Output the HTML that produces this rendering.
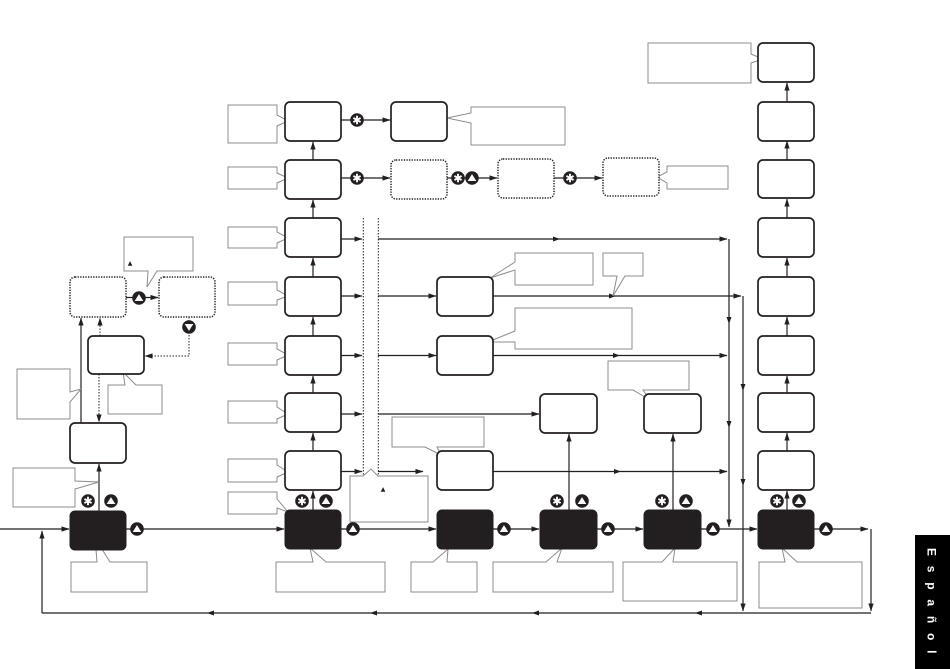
<!DOCTYPE html>
<html>
<head>
<meta charset="utf-8">
<style>
html,body{margin:0;padding:0;background:#fff;}
svg{display:block;}
</style>
</head>
<body>
<svg width="950" height="669" viewBox="0 0 950 669" xmlns="http://www.w3.org/2000/svg">
<defs>
<marker id="a" markerWidth="8" markerHeight="6" refX="7.5" refY="3" orient="auto" markerUnits="userSpaceOnUse"><path d="M0,0.4 L8,3 L0,5.6z" fill="#231f20"/></marker>
<g id="ast"><circle r="6.8" fill="#231f20"/><path d="M0,-4.2V4.2M-3.6,-2.1L3.6,2.1M-3.6,2.1L3.6,-2.1" stroke="#fff" stroke-width="1.9"/></g>
<g id="up"><circle r="6.8" fill="#231f20"/><path d="M0,-3.9L4.3,3L-4.3,3z" fill="#fff"/></g>
<g id="dn"><circle r="6.8" fill="#231f20"/><path d="M0,3.9L4.3,-3L-4.3,-3z" fill="#fff"/></g>
</defs>
<g stroke="#231f20" stroke-width="1.2" fill="none">
<line x1="0" y1="529" x2="69" y2="529" marker-end="url(#a)"/>
<line x1="126" y1="529" x2="284" y2="529" marker-end="url(#a)"/>
<line x1="341" y1="529" x2="436" y2="529" marker-end="url(#a)"/>
<line x1="493" y1="529" x2="539" y2="529" marker-end="url(#a)"/>
<line x1="597" y1="529" x2="643" y2="529" marker-end="url(#a)"/>
<line x1="701" y1="529" x2="757" y2="529" marker-end="url(#a)"/>
<line x1="814" y1="529" x2="868" y2="529" marker-end="url(#a)"/>
<line x1="871" y1="529" x2="871" y2="611" marker-end="url(#a)"/>
<line x1="871" y1="613" x2="42" y2="613"/>
<line x1="42" y1="613" x2="42" y2="531" marker-end="url(#a)"/>
<line x1="729" y1="239" x2="729" y2="527" marker-end="url(#a)"/>
<line x1="743" y1="296" x2="743" y2="611" marker-end="url(#a)"/>
<line x1="341" y1="239" x2="362" y2="239" marker-end="url(#a)"/>
<line x1="378" y1="239" x2="727" y2="239" marker-end="url(#a)"/>
<line x1="341" y1="296" x2="362" y2="296" marker-end="url(#a)"/>
<line x1="378" y1="296" x2="436" y2="296" marker-end="url(#a)"/>
<line x1="493" y1="296" x2="741" y2="296" marker-end="url(#a)"/>
<line x1="341" y1="355.5" x2="362" y2="355.5" marker-end="url(#a)"/>
<line x1="378" y1="355.5" x2="436" y2="355.5" marker-end="url(#a)"/>
<line x1="493" y1="355.5" x2="727" y2="355.5" marker-end="url(#a)"/>
<line x1="341" y1="414" x2="362" y2="414" marker-end="url(#a)"/>
<line x1="378" y1="414" x2="539" y2="414" marker-end="url(#a)"/>
<line x1="341" y1="471.5" x2="362" y2="471.5" marker-end="url(#a)"/>
<line x1="378" y1="471.5" x2="423" y2="471.5" marker-end="url(#a)"/>
<line x1="493" y1="471.5" x2="727" y2="471.5" marker-end="url(#a)"/>
<line x1="569" y1="510" x2="569" y2="434" marker-end="url(#a)"/>
<line x1="673" y1="510" x2="673" y2="434" marker-end="url(#a)"/>
<line x1="313" y1="510" x2="313" y2="491" marker-end="url(#a)"/>
<line x1="313" y1="451" x2="313" y2="433" marker-end="url(#a)"/>
<line x1="313" y1="393" x2="313" y2="376" marker-end="url(#a)"/>
<line x1="313" y1="336" x2="313" y2="317" marker-end="url(#a)"/>
<line x1="313" y1="277" x2="313" y2="258" marker-end="url(#a)"/>
<line x1="313" y1="218" x2="313" y2="200" marker-end="url(#a)"/>
<line x1="313" y1="160" x2="313" y2="142" marker-end="url(#a)"/>
<line x1="787" y1="510" x2="787" y2="491" marker-end="url(#a)"/>
<line x1="787" y1="451" x2="787" y2="433" marker-end="url(#a)"/>
<line x1="787" y1="393" x2="787" y2="376" marker-end="url(#a)"/>
<line x1="787" y1="336" x2="787" y2="317" marker-end="url(#a)"/>
<line x1="787" y1="277" x2="787" y2="258" marker-end="url(#a)"/>
<line x1="787" y1="218" x2="787" y2="199" marker-end="url(#a)"/>
<line x1="787" y1="160" x2="787" y2="141" marker-end="url(#a)"/>
<line x1="787" y1="102" x2="787" y2="83" marker-end="url(#a)"/>
<line x1="341" y1="120" x2="390" y2="120" marker-end="url(#a)"/>
<line x1="341" y1="178" x2="390" y2="178" marker-end="url(#a)"/>
<line x1="447" y1="178" x2="497" y2="178" marker-end="url(#a)"/>
<line x1="554" y1="178" x2="602" y2="178" marker-end="url(#a)"/>
<line x1="99" y1="511" x2="99" y2="464" marker-end="url(#a)"/>
<line x1="81" y1="423" x2="81" y2="318" marker-end="url(#a)"/>
<line x1="126" y1="297.5" x2="158" y2="297.5" marker-end="url(#a)"/>
</g>
<g stroke="#231f20" stroke-width="1" fill="none" stroke-dasharray="1.5 1.5">
<line x1="100" y1="336" x2="100" y2="318" marker-end="url(#a)"/>
<line x1="99" y1="374" x2="99" y2="422" marker-end="url(#a)"/>
<polyline points="189,317 189,356 145,356" marker-end="url(#a)"/>
<line x1="363.3" y1="218" x2="363.3" y2="476"/>
<line x1="378.3" y1="218" x2="378.3" y2="476"/>
</g>
<g fill="#231f20">
<polygon points="560,239 553,236.5 553,241.5"/>
<polygon points="616,296 609,293.5 609,298.5"/>
<polygon points="620,355.5 613,353 613,358"/>
<polygon points="621,471.5 614,469 614,474"/>
<polygon points="729,324 726.5,317 731.5,317"/>
<polygon points="729,428 726.5,421 731.5,421"/>
<polygon points="743,391 740.5,384 745.5,384"/>
<polygon points="743,486 740.5,479 745.5,479"/>
<polygon points="207,613 214,610.5 214,615.5"/>
<polygon points="370,613 377,610.5 377,615.5"/>
<polygon points="532,613 539,610.5 539,615.5"/>
<polygon points="695,613 702,610.5 702,615.5"/>
</g>
<g stroke="#8c8c8c" stroke-width="1" fill="#fff">
<path d="M228,105H277V115L288,121L277,126V143H228Z"/>
<path d="M228,167H277V173L288,178L277,183V189H228Z"/>
<path d="M228,227H277V232L288,238L277,243V248H228Z"/>
<path d="M228,282H277V290L288,296L277,300V305H228Z"/>
<path d="M228,343H277V349L288,355L277,360V365H228Z"/>
<path d="M228,401H277V407L288,414L277,419V423H228Z"/>
<path d="M228,459H277V465L288,472L277,477V482H228Z"/>
<path d="M228,492H277V499L288,512L277,508V514H228Z"/>
<path d="M471,107H565V145H471V123L447,118L471,113Z"/>
<path d="M124,237H193V271H157L147,287L148,271H124Z"/>
<path d="M17,369H70V392L81,389L70,402V419H17Z"/>
<path d="M108,385H125L123,372L136,385H162V414H108Z"/>
<path d="M13,468H75V481L99,482L75,489V507H13Z"/>
<path d="M71,562H97L95,538L110,562H147V592H71Z"/>
<path d="M276,562H313L310,548L326,562H385V592H276Z"/>
<path d="M411,562H433L448,549L447,562H477V592H411Z"/>
<path d="M493,562H546L562,548L557,562H613V592H493Z"/>
<path d="M623,562H662L675,548L673,562H737V601H623Z"/>
<path d="M759,562H785L782,548L797,562H862V608H759Z"/>
<path d="M350,476H363L371,469L378,476H428V522H350Z"/>
<path d="M392,417H484V447H437L441,455L425,447H392Z"/>
<path d="M515,253H593V285H515V270L490,278L515,262Z"/>
<path d="M603,253H643V276H625L613,296L617,276H603Z"/>
<path d="M515,308H632V349H515V342L488,342L515,331Z"/>
<path d="M608,361H689V390H643L650,400L633,390H608Z"/>
<path d="M648,43H751V54L763,59L751,63V83H648Z"/>
<path d="M667,166H728V189H667V183L657,177L667,172Z"/>
</g>
<text x="130" y="265" font-family="DejaVu Sans, sans-serif" font-size="6" fill="#231f20" text-anchor="middle">▲</text>
<text x="383" y="491" font-family="DejaVu Sans, sans-serif" font-size="6" fill="#231f20" text-anchor="middle">▲</text>
<g fill="#fff" stroke="#231f20" stroke-width="1.7">
<rect x="88" y="336" width="56" height="38" rx="5"/>
<rect x="70" y="423" width="56" height="40" rx="5"/>
<rect x="285" y="102" width="56" height="39" rx="5"/>
<rect x="285" y="160" width="56" height="39" rx="5"/>
<rect x="285" y="218" width="56" height="39" rx="5"/>
<rect x="285" y="277" width="56" height="39" rx="5"/>
<rect x="285" y="336" width="56" height="39" rx="5"/>
<rect x="285" y="393" width="56" height="39" rx="5"/>
<rect x="285" y="451" width="56" height="39" rx="5"/>
<rect x="391" y="102" width="56" height="39" rx="5"/>
<rect x="437" y="277" width="56" height="39" rx="5"/>
<rect x="437" y="336" width="56" height="39" rx="5"/>
<rect x="437" y="451" width="56" height="39" rx="5"/>
<rect x="540" y="394" width="57" height="39" rx="5"/>
<rect x="644" y="394" width="57" height="39" rx="5"/>
<rect x="758" y="43" width="56" height="39" rx="5"/>
<rect x="758" y="102" width="56" height="39" rx="5"/>
<rect x="758" y="160" width="56" height="38" rx="5"/>
<rect x="758" y="218" width="56" height="39" rx="5"/>
<rect x="758" y="277" width="56" height="39" rx="5"/>
<rect x="758" y="336" width="56" height="39" rx="5"/>
<rect x="758" y="393" width="56" height="39" rx="5"/>
<rect x="758" y="451" width="56" height="39" rx="5"/>
</g>
<g fill="#fff" stroke="#231f20" stroke-width="1.5" stroke-dasharray="1.3 1.3">
<rect x="70" y="277" width="56" height="40" rx="5"/>
<rect x="159" y="277" width="56" height="40" rx="5"/>
<rect x="391" y="160" width="56" height="39" rx="5"/>
<rect x="498" y="159" width="56" height="39" rx="5"/>
<rect x="603" y="158" width="56" height="38" rx="5"/>
</g>
<g fill="#231f20" stroke="#231f20" stroke-width="1">
<rect x="70" y="511" width="56" height="39" rx="5"/>
<rect x="285" y="510" width="56" height="39" rx="5"/>
<rect x="437" y="510" width="56" height="39" rx="5"/>
<rect x="540" y="510" width="57" height="39" rx="5"/>
<rect x="644" y="510" width="57" height="39" rx="5"/>
<rect x="758" y="510" width="56" height="39" rx="5"/>
</g>
<use href="#ast" x="88" y="501"/>
<use href="#ast" x="302" y="501"/>
<use href="#ast" x="557" y="501"/>
<use href="#ast" x="662" y="501"/>
<use href="#ast" x="777" y="501"/>
<use href="#ast" x="357" y="120"/>
<use href="#ast" x="357" y="178"/>
<use href="#ast" x="458" y="178"/>
<use href="#ast" x="570" y="178"/>
<use href="#up" x="111" y="501"/>
<use href="#up" x="326" y="501"/>
<use href="#up" x="582" y="501"/>
<use href="#up" x="686" y="501"/>
<use href="#up" x="799" y="501"/>
<use href="#up" x="137" y="529"/>
<use href="#up" x="353" y="529"/>
<use href="#up" x="504" y="529"/>
<use href="#up" x="608" y="529"/>
<use href="#up" x="713" y="529"/>
<use href="#up" x="826" y="529"/>
<use href="#up" x="472" y="178"/>
<use href="#up" x="139" y="298"/>
<use href="#dn" x="189" y="327"/>
<rect x="915" y="535" width="35" height="134" fill="#000"/>
<text transform="translate(932,548) rotate(90)" x="0" y="4.5" font-family="Liberation Sans, sans-serif" font-size="12" font-weight="bold" fill="#fff" letter-spacing="9.8">Español</text>
</svg>
</body>
</html>
